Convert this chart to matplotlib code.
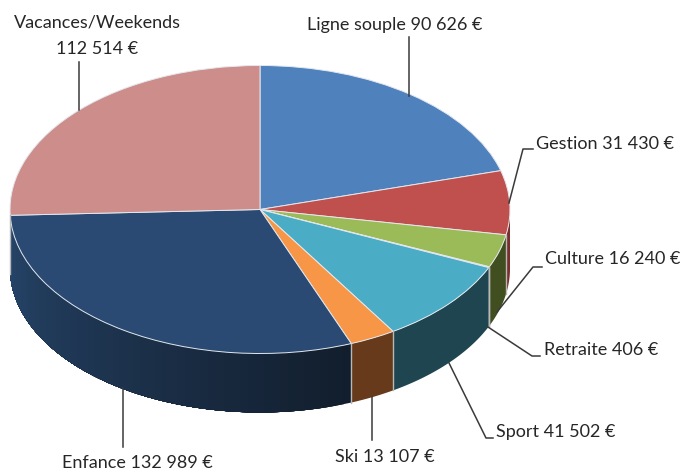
import numpy as np
import matplotlib
matplotlib.use('Agg')
import matplotlib.pyplot as plt
from matplotlib.colors import to_rgb

plt.rcParams['font.family'] = ['Lato', 'DejaVu Sans']

names = ['Ligne souple', 'Gestion', 'Culture', 'Retraite', 'Sport', 'Ski', 'Enfance', 'Vacances/Weekends']
values = [90626, 31430, 16240, 406, 41502, 13107, 132989, 112514]
top_colors = ['#4f81bd', '#c0504d', '#9bbb59', '#8064a2', '#4bacc6', '#f79646', '#2a4a73', '#cd8d8b']
side_colors = ['#2f4d71', '#7a2f2d', '#414f20', '#4d3c61', '#1f4550', '#663a1b', '#26456a', '#7b5554']
enfance_end = '#121e2d'

# leader lines and label spots, in picture pixels
leaders = {
    'Ligne souple': [(409, 37), (409, 96)],
    'Gestion': [(533, 149), (523, 149), (509, 203)],
    'Culture': [(542, 267), (533, 267), (497, 312)],
    'Retraite': [(540, 356), (532, 356), (488, 327)],
    'Sport': [(493, 438), (486, 438), (449, 363)],
    'Ski': [(372, 397), (372, 440)],
    'Enfance': [(123, 388), (123, 447)],
    'Vacances/Weekends': [(79, 62), (79, 110)],
}
label_pos = {
    'Ligne souple': (395, 25),
    'Gestion': (605, 144),
    'Culture': (613, 259),
    'Retraite': (601, 350),
    'Sport': (556, 432),
    'Ski': (385, 457),
    'Enfance': (137, 463),
}

cx, cy, rx, ry, depth = 260, 209.5, 250, 144, 59
font_size = 13


def money(v):
    return f'{v:,}'.replace(',', ' ') + ' €'


fig = plt.figure(figsize=(6.83, 4.72), dpi=100)
ax = fig.add_axes([0, 0, 1, 1])
d = depth / ry

# side wall first, pie goes on top
edges = np.concatenate([[0], np.cumsum(values)]) / sum(values) * 360
for i, name in enumerate(names):
    a, b = max(edges[i], 90), min(edges[i + 1], 270)
    if b <= a:
        continue
    if name == 'Enfance':
        # drawn from the dark end back, each strip overlaps the one before so no seams show
        steps = np.linspace(a, b, 60)
        c0, c1 = np.array(to_rgb(side_colors[i])), np.array(to_rgb(enfance_end))
        for k in range(len(steps) - 1):
            t = np.radians(np.linspace(steps[k], b, 30))
            x = np.sin(t)
            y = np.cos(t)
            f = 1 - k / (len(steps) - 2)
            ax.fill(np.r_[x, x[::-1]], np.r_[y, y[::-1] - d], color=c0 + (c1 - c0) * f, lw=0)
    else:
        t = np.radians(np.linspace(a, b, 40))
        x = np.sin(t)
        y = np.cos(t)
        ax.fill(np.r_[x, x[::-1]], np.r_[y, y[::-1] - d], color=side_colors[i], lw=0)
    # pale seam at the slice border
    if edges[i + 1] < 270 and edges[i + 1] > 90:
        t = np.radians(edges[i + 1])
        ax.plot([np.sin(t)] * 2, [np.cos(t), np.cos(t) - d], color='#b8b8b8', lw=1)

ax.pie(values, colors=top_colors, startangle=90, counterclock=False, radius=1,
       wedgeprops={'edgecolor': '#e4e8ee', 'linewidth': 0.7})
ax.set_aspect('auto')
ax.set_xlim(-cx / rx, (683 - cx) / rx)
ax.set_ylim(-(472 - cy) / ry, cy / ry)

# overlay in pixel units for leaders and labels
ov = fig.add_axes([0, 0, 1, 1])
ov.set_xlim(0, 683)
ov.set_ylim(472, 0)
ov.axis('off')
ov.patch.set_alpha(0)
for name, pts in leaders.items():
    ov.plot([p[0] for p in pts], [p[1] for p in pts], color='#3a3a3a', lw=1.1)
for name, v in zip(names, values):
    if name in label_pos:
        x, y = label_pos[name]
        ov.text(x, y, f'{name} {money(v)}', ha='center', va='center', fontsize=font_size, color='#262626')
ov.text(97, 22, 'Vacances/Weekends', ha='center', va='center', fontsize=font_size, color='#262626')
ov.text(97, 49, money(values[7]), ha='center', va='center', fontsize=font_size, color='#262626')

fig.savefig('out.png', dpi=100)
